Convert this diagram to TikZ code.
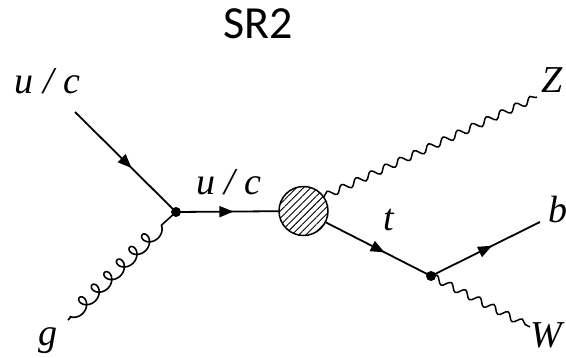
\documentclass[tikz,border=0pt]{standalone}
\usepackage{fontspec}
\setmainfont{Liberation Serif}[ItalicFont={Liberation Serif Italic}]
\newfontfamily\lblfont{Liberation Serif Italic}
\newfontfamily\titlefont{Carlito}
\usetikzlibrary{arrows.meta,decorations.pathmorphing,decorations.markings,patterns.meta}

\begin{document}
\begin{tikzpicture}[x=1pt,y=-1pt,
  lbl/.style={font=\lblfont\fontsize{38}{40}\selectfont, inner sep=0pt, anchor=base},
  dot/.style={circle, fill=black, inner sep=0pt, minimum size=10pt},
  blob/.style={circle, draw=black, line width=1.5pt, minimum size=49pt, inner sep=0pt,
    pattern={Lines[angle=45,distance=5pt,line width=0.9pt]}},
  fermion/.style={line width=1.8pt, postaction={decorate},
    decoration={markings, mark=at position 0.56 with {\arrow{Triangle[length=14pt,width=11pt]}}}},
  boson/.style={line width=1.5pt, decorate,
    decoration={snake, amplitude=3.5pt, segment length=16pt}},
  gluonline/.style={line width=1.6pt, line join=round},
]
\useasboundingbox (0,0) rectangle (566,357);

% title
\node[anchor=base, font=\titlefont\fontsize{46}{50}\selectfont, inner sep=0pt] (title) at (258,38) {SR2};

% vertices and free ends
\node[dot] (v1) at (176,212) {};
\node[blob] (h) at (303.5,211) {};
\node[dot] (v2) at (431,276) {};
\coordinate (qin) at (75,112);
\coordinate (gin) at (68,320);
\coordinate (zend) at (537,97);
\coordinate (bend) at (540,222);
\coordinate (wend) at (530,327);

% propagators
\draw[fermion] (qin) -- (v1.center);
\draw[fermion] (v1.center) -- (h);
\draw[boson] (h.35) -- (zend);
\draw[fermion] (h) -- (v2.center);
\draw[fermion] (v2.center) -- (bend);
\draw[boson] (v2.center) -- (wend);

% gluon: prolate cycloid along the line from gin towards v1
\begin{scope}[shift={(gin)}, x={(0.70711pt,0.70711pt)}, y={(-0.70711pt,0.70711pt)}]
  \draw[gluonline] (0,0) -- (3.5,0)
    -- plot[domain=-1.5708:39.27, samples=300, smooth, variable=\t]
       ({15.1 + 2.83*\t + 6.8*sin(\t r)}, {-6.8*cos(\t r) + 1})
    -- (v1.center);
\end{scope}

% labels
\node[lbl] (lq) at (47.5,93) {u / c};
\node[lbl] (lg) at (48,345) {g};
\node[lbl] (lu) at (229,194) {u / c};
\node[lbl] (lt) at (389,230) {t};
\node[lbl, anchor=base west] (lz) at (541,92) {Z};
\node[lbl, anchor=base west] (lb) at (548,222) {b};
\node[lbl, anchor=base west] (lw) at (530,347) {W};
\end{tikzpicture}
\end{document}
